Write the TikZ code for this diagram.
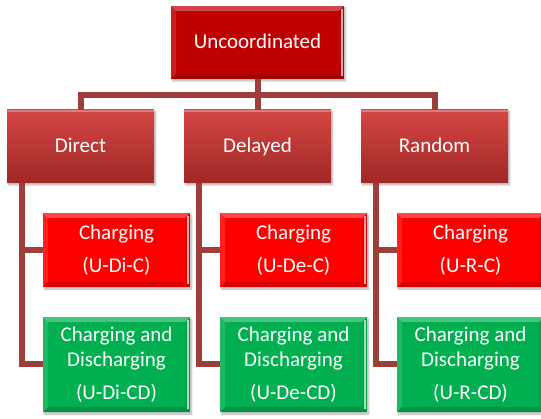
\documentclass[tikz,border=0pt]{standalone}
\usepackage{fontspec}
\setmainfont{Carlito}
\usetikzlibrary{shadows.blur}
\definecolor{conn}{RGB}{158,62,58}
\definecolor{topred}{RGB}{192,0,0}
\definecolor{midtop}{RGB}{212,70,68}
\definecolor{midbot}{RGB}{160,40,38}
\definecolor{chred}{RGB}{255,0,0}
\definecolor{chgreen}{RGB}{0,176,80}
\tikzset{
  bevel/.style={path picture={
    \fill[white,opacity=.28] (path picture bounding box.north west) -- (path picture bounding box.north east)
      -- ([xshift=-5pt,yshift=-5pt]path picture bounding box.north east) -- ([xshift=5pt,yshift=-5pt]path picture bounding box.north west) -- cycle;
    \fill[white,opacity=.12] (path picture bounding box.north west) -- ([xshift=5pt,yshift=-5pt]path picture bounding box.north west)
      -- ([xshift=5pt,yshift=5pt]path picture bounding box.south west) -- (path picture bounding box.south west) -- cycle;
    \fill[black,opacity=.16] (path picture bounding box.south west) -- (path picture bounding box.south east)
      -- ([xshift=-5pt,yshift=5pt]path picture bounding box.south east) -- ([xshift=5pt,yshift=5pt]path picture bounding box.south west) -- cycle;
    \fill[black,opacity=.08] (path picture bounding box.north east) -- ([xshift=-5pt,yshift=-5pt]path picture bounding box.north east)
      -- ([xshift=-5pt,yshift=5pt]path picture bounding box.south east) -- (path picture bounding box.south east) -- cycle;
    \draw[white,opacity=.65,line width=1.2pt] ([xshift=-2pt,yshift=-3pt]path picture bounding box.north east) -- ([xshift=-2pt,yshift=3pt]path picture bounding box.south east);
  }},
  box/.style={rectangle, inner sep=0pt, text=white, align=center,
    font=\fontsize{21}{25}\selectfont,
    blur shadow={shadow xshift=1.5pt, shadow yshift=-2pt, shadow opacity=30, shadow blur steps=5}},
  topbox/.style={box, fill=topred, bevel, minimum width=173pt, minimum height=73pt, text height=13pt, text depth=0pt},
  midbox/.style={box, top color=midtop, bottom color=midbot, minimum width=147pt, minimum height=73pt, text height=13pt, text depth=0pt,
    path picture={\draw[white,opacity=.3,line width=1.5pt] ([yshift=-1pt]path picture bounding box.north west) -- ([yshift=-1pt]path picture bounding box.north east);}},
  chbox/.style={box, fill=chred, bevel, minimum width=147pt, minimum height=74pt},
  cdbox/.style={box, fill=chgreen, bevel, minimum width=147pt, minimum height=95pt},
  link/.style={draw=conn, line width=6pt, line join=miter, line cap=butt},
}
\begin{document}
\begin{tikzpicture}[x=1pt,y=-1pt]
\useasboundingbox (0,0) rectangle (541,419);
\clip (0,0) rectangle (541,419);

\node[topbox] (top) at (257.5,42.5) {Uncoordinated};

\node[midbox] (di) at (80.5,146.5) {Direct};
\node[midbox] (de) at (257.5,146.5) {Delayed};
\node[midbox] (ra) at (434.5,146.5) {Random};

\node[chbox] (dic) at (116.5,250) {Charging\\[8pt](U-Di-C)};
\node[chbox] (dec) at (293.5,250) {Charging\\[8pt](U-De-C)};
\node[chbox] (rac) at (470.5,250) {Charging\\[8pt](U-R-C)};

\node[cdbox] (dicd) at (116.5,364.5) {Charging and\\Discharging\\[8pt](U-Di-CD)};
\node[cdbox] (decd) at (293.5,364.5) {Charging and\\Discharging\\[8pt](U-De-CD)};
\node[cdbox] (racd) at (470.5,364.5) {Charging and\\Discharging\\[8pt](U-R-CD)};

\coordinate (bus) at (257.5,95.5);
\draw[link] (top.south) -- (bus);
\draw[link] (di.north) |- (bus) -| (ra.north);
\draw[link] (bus) -- (de.north);

\draw[link] ([xshift=15pt]di.south west) |- (dic.west);
\draw[link] ([xshift=15pt]di.south west) |- (dicd.west);
\draw[link] ([xshift=15pt]de.south west) |- (dec.west);
\draw[link] ([xshift=15pt]de.south west) |- (decd.west);
\draw[link] ([xshift=15pt]ra.south west) |- (rac.west);
\draw[link] ([xshift=15pt]ra.south west) |- (racd.west);
\end{tikzpicture}
\end{document}
